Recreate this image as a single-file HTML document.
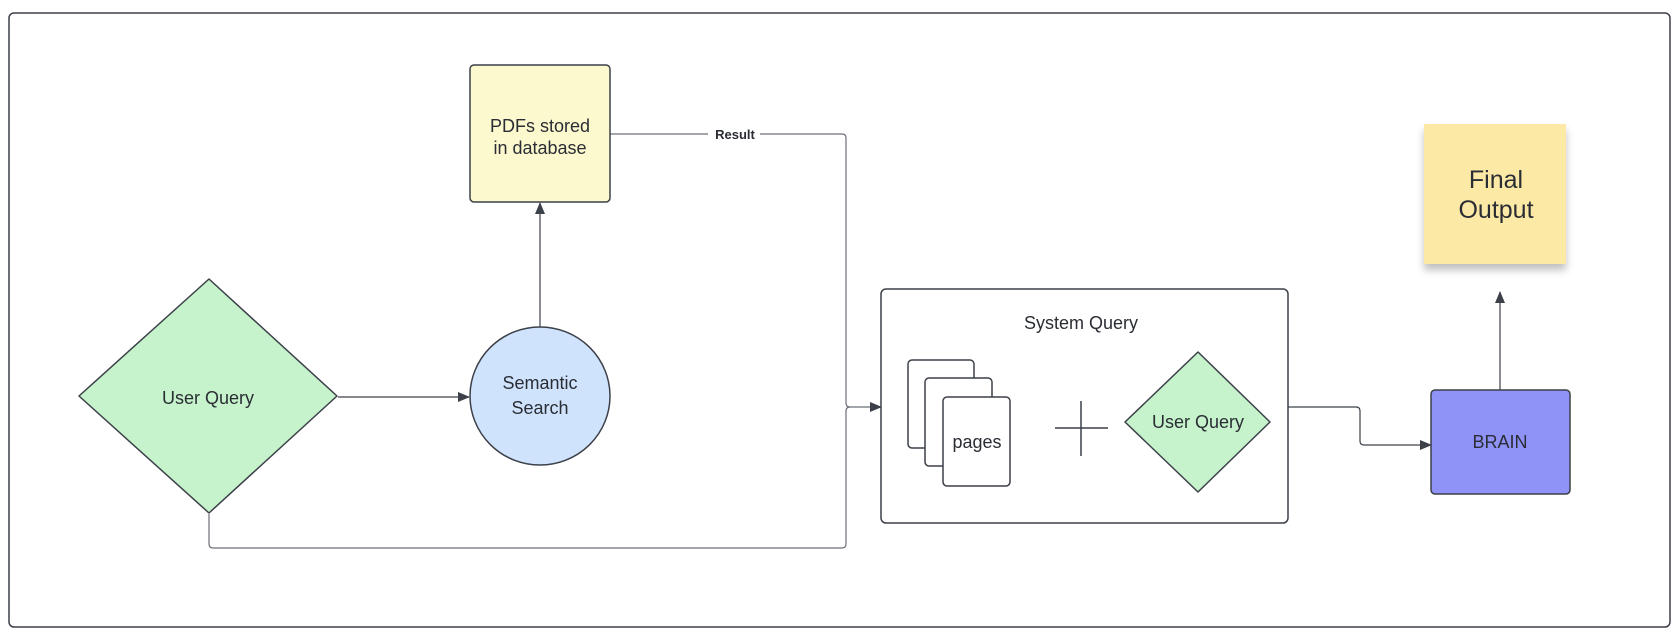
<!DOCTYPE html>
<html><head><meta charset="utf-8"><style>
html,body{margin:0;padding:0;background:#fff;width:1679px;height:637px;overflow:hidden}
svg{display:block}
text{font-family:"Liberation Sans",sans-serif;fill:#2a2d34}
</style></head><body>
<svg width="1679" height="637" viewBox="0 0 1679 637" xmlns="http://www.w3.org/2000/svg">
<defs>
<marker id="ar" markerWidth="12" markerHeight="10" refX="11" refY="5" orient="auto" markerUnits="userSpaceOnUse">
<path d="M0,0 L12,5 L0,10 Z" fill="#3c4049"/></marker>
<filter id="sh" x="-20%" y="-20%" width="140%" height="150%"><feDropShadow dx="0" dy="6" stdDeviation="4" flood-color="#000" flood-opacity="0.25"/></filter>
</defs>
<rect x="9" y="13" width="1661" height="614" rx="5" fill="#fff" stroke="#3c4049" stroke-width="1.5"/>
<!-- connectors -->
<path d="M610,134 H842 Q846,134 846,138 V403 Q846,407 850,407 H881" fill="none" stroke="#6b6f78" stroke-width="1.2" marker-end="url(#ar)"/>
<rect x="708" y="126" width="52" height="16" fill="#fff"/>
<text x="735" y="139" font-size="13" font-weight="bold" text-anchor="middle" fill="#3c4049">Result</text>
<path d="M209,514 V544 Q209,548 213,548 H842 Q846,548 846,544 V411 Q846,407 850,407" fill="none" stroke="#6b6f78" stroke-width="1.2"/>
<path d="M338,397 H469" fill="none" stroke="#3c4049" stroke-width="1.2" marker-end="url(#ar)"/>
<path d="M540,327 V203" fill="none" stroke="#3c4049" stroke-width="1.2" marker-end="url(#ar)"/>
<path d="M1288,407 H1356 Q1360,407 1360,411 V441 Q1360,445 1364,445 H1431" fill="none" stroke="#3c4049" stroke-width="1.2" marker-end="url(#ar)"/>
<path d="M1500,390 V292" fill="none" stroke="#3c4049" stroke-width="1.2" marker-end="url(#ar)"/>
<!-- PDF box -->
<rect x="470" y="65" width="140" height="137" rx="4" fill="#fdf9cf" stroke="#3c4049" stroke-width="1.5"/>
<text x="540" y="132" font-size="18" text-anchor="middle">PDFs stored</text>
<text x="540" y="154" font-size="18" text-anchor="middle">in database</text>
<!-- user query diamond -->
<path d="M209,279 L337,396 L209,513 L79,396 Z" fill="#c6f3cc" stroke="#3c4049" stroke-width="1.5" stroke-linejoin="round"/>
<text x="208" y="404" font-size="18" text-anchor="middle">User Query</text>
<!-- circle -->
<ellipse cx="540" cy="396" rx="70" ry="69" fill="#d0e3fc" stroke="#3c4049" stroke-width="1.5"/>
<text x="540" y="389" font-size="18" text-anchor="middle">Semantic</text>
<text x="540" y="414" font-size="18" text-anchor="middle">Search</text>
<!-- system box -->
<rect x="881" y="289" width="407" height="234" rx="5" fill="#fff" stroke="#3c4049" stroke-width="1.5"/>
<text x="1081" y="329" font-size="18" text-anchor="middle">System Query</text>
<rect x="908" y="360" width="66" height="88" rx="4" fill="#fff" stroke="#3c4049" stroke-width="1.5"/>
<rect x="925" y="378" width="67" height="88" rx="4" fill="#fff" stroke="#3c4049" stroke-width="1.5"/>
<rect x="943" y="397" width="67" height="89" rx="4" fill="#fff" stroke="#3c4049" stroke-width="1.5"/>
<text x="977" y="448" font-size="18" text-anchor="middle">pages</text>
<path d="M1055,428 H1108 M1081,401 V456" stroke="#3c4049" stroke-width="1.5"/>
<path d="M1198,352 L1270,422 L1198,492 L1125,422 Z" fill="#c6f3cc" stroke="#3c4049" stroke-width="1.5" stroke-linejoin="round"/>
<text x="1198" y="428" font-size="18" text-anchor="middle">User Query</text>
<!-- brain -->
<rect x="1431" y="390" width="139" height="104" rx="4" fill="#8f93f7" stroke="#3c4049" stroke-width="1.5"/>
<text x="1500" y="448" font-size="18" text-anchor="middle">BRAIN</text>
<!-- final output -->
<rect x="1424" y="124" width="142" height="140" fill="#fce9a6" filter="url(#sh)"/>
<text x="1496" y="188" font-size="25" text-anchor="middle">Final</text>
<text x="1496" y="218" font-size="25" text-anchor="middle">Output</text>
</svg>
</body></html>
